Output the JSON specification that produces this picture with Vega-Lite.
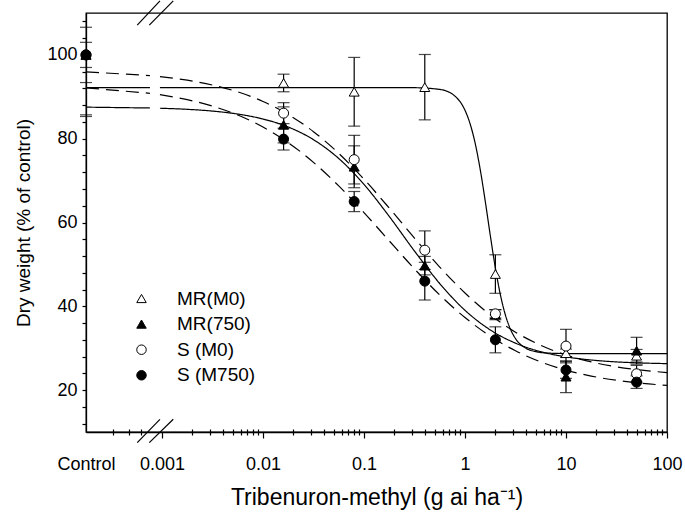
{
  "$schema": "https://vega.github.io/schema/vega-lite/v6.json",
  "width": 581,
  "height": 419,
  "autosize": {"type": "none"},
  "padding": {"left": 86, "top": 13, "right": 18, "bottom": 88},
  "background": "white",
  "config": {
    "font": "Liberation Sans",
    "view": {"stroke": "black", "strokeWidth": 1.3},
    "axis": {"domainColor": "black", "domainWidth": 1.3, "tickColor": "black", "tickWidth": 1.2, "labelColor": "black", "titleColor": "black", "labelFont": "Liberation Sans", "titleFont": "Liberation Sans", "titleFontWeight": "normal", "grid": false, "labelFontSize": 18, "titleFontSize": 21},
    "legend": {"labelFontSize": 19, "labelFont": "Liberation Sans", "labelColor": "black", "symbolSize": 90, "symbolStrokeColor": "black", "symbolStrokeWidth": 1, "labelOffset": 26, "rowPadding": 5.6}
  },
  "datasets": {
    "pts": [
      {"s": "MR(M0)", "d": 0.000177, "y": 100, "lo": 85.3, "hi": 114.7},
      {"s": "MR(M0)", "d": 0.016, "y": 93.3, "lo": 91.2, "hi": 95.4},
      {"s": "MR(M0)", "d": 0.08, "y": 91.2, "lo": 83.0, "hi": 99.4},
      {"s": "MR(M0)", "d": 0.4, "y": 92.3, "lo": 84.5, "hi": 100.1},
      {"s": "MR(M0)", "d": 2, "y": 47.7, "lo": 43.1, "hi": 52.3},
      {"s": "MR(M0)", "d": 10, "y": 28.8, "lo": 27.8, "hi": 29.8},
      {"s": "MR(M0)", "d": 50, "y": 28.2, "lo": 26.7, "hi": 29.7},
      {"s": "MR(750)", "d": 0.000177, "y": 100, "lo": 97, "hi": 103},
      {"s": "MR(750)", "d": 0.016, "y": 83.3, "lo": 79.0, "hi": 87.6},
      {"s": "MR(750)", "d": 0.08, "y": 73.3, "lo": 68.3, "hi": 78.3},
      {"s": "MR(750)", "d": 0.4, "y": 49.7, "lo": 47.5, "hi": 51.9},
      {"s": "MR(750)", "d": 2, "y": 38.0, "lo": 36.8, "hi": 39.2},
      {"s": "MR(750)", "d": 10, "y": 23.2, "lo": 19.4, "hi": 27.0},
      {"s": "MR(750)", "d": 50, "y": 29.4, "lo": 26.2, "hi": 32.6},
      {"s": "S (M0)", "d": 0.000177, "y": 100, "lo": 85.7, "hi": 114.3},
      {"s": "S (M0)", "d": 0.016, "y": 86.1, "lo": 83.6, "hi": 88.6},
      {"s": "S (M0)", "d": 0.08, "y": 75.0, "lo": 69.2, "hi": 80.8},
      {"s": "S (M0)", "d": 0.4, "y": 53.4, "lo": 48.8, "hi": 58.0},
      {"s": "S (M0)", "d": 2, "y": 38.2, "lo": 37.2, "hi": 39.2},
      {"s": "S (M0)", "d": 10, "y": 30.5, "lo": 26.5, "hi": 34.5},
      {"s": "S (M0)", "d": 50, "y": 23.9, "lo": 21.9, "hi": 25.9},
      {"s": "S (M750)", "d": 0.000177, "y": 100, "lo": 93.4, "hi": 106.6},
      {"s": "S (M750)", "d": 0.016, "y": 79.9, "lo": 77.3, "hi": 82.5},
      {"s": "S (M750)", "d": 0.08, "y": 65.0, "lo": 62.6, "hi": 67.4},
      {"s": "S (M750)", "d": 0.4, "y": 46.0, "lo": 41.5, "hi": 50.5},
      {"s": "S (M750)", "d": 2, "y": 32.0, "lo": 28.9, "hi": 35.1},
      {"s": "S (M750)", "d": 10, "y": 24.8, "lo": 22.8, "hi": 26.8},
      {"s": "S (M750)", "d": 50, "y": 21.9, "lo": 20.4, "hi": 23.4}
    ],
    "curves": [
      {"c": "MR(M0)", "g": "a", "x": 0.000177, "y": 92.2},
      {"c": "MR(M0)", "g": "a", "x": 0.00076, "y": 92.2},
      {"c": "MR(M0)", "g": "b", "x": 0.000955, "y": 92.2},
      {"c": "MR(M0)", "g": "b", "x": 0.01, "y": 92.2},
      {"c": "MR(M0)", "g": "b", "x": 0.1, "y": 92.2},
      {"c": "MR(M0)", "g": "b", "x": 0.316228, "y": 92.17},
      {"c": "MR(M0)", "g": "b", "x": 0.562341, "y": 91.76},
      {"c": "MR(M0)", "g": "b", "x": 0.794328, "y": 90.17},
      {"c": "MR(M0)", "g": "b", "x": 1, "y": 86.79},
      {"c": "MR(M0)", "g": "b", "x": 1.122018, "y": 83.61},
      {"c": "MR(M0)", "g": "b", "x": 1.258925, "y": 78.99},
      {"c": "MR(M0)", "g": "b", "x": 1.412538, "y": 72.76},
      {"c": "MR(M0)", "g": "b", "x": 1.584893, "y": 65.18},
      {"c": "MR(M0)", "g": "b", "x": 1.778279, "y": 57.0},
      {"c": "MR(M0)", "g": "b", "x": 1.995262, "y": 49.27},
      {"c": "MR(M0)", "g": "b", "x": 2.238721, "y": 42.8},
      {"c": "MR(M0)", "g": "b", "x": 2.511886, "y": 37.93},
      {"c": "MR(M0)", "g": "b", "x": 2.818383, "y": 34.54},
      {"c": "MR(M0)", "g": "b", "x": 3.162278, "y": 32.31},
      {"c": "MR(M0)", "g": "b", "x": 3.981072, "y": 30.03},
      {"c": "MR(M0)", "g": "b", "x": 5.011872, "y": 29.18},
      {"c": "MR(M0)", "g": "b", "x": 6.309573, "y": 28.87},
      {"c": "MR(M0)", "g": "b", "x": 10, "y": 28.72},
      {"c": "MR(M0)", "g": "b", "x": 100, "y": 28.7},
      {"c": "MR(750)", "g": "a", "x": 0.000177, "y": 87.53},
      {"c": "MR(750)", "g": "a", "x": 0.00076, "y": 87.33},
      {"c": "MR(750)", "g": "b", "x": 0.000955, "y": 87.27},
      {"c": "MR(750)", "g": "b", "x": 0.001778, "y": 87.01},
      {"c": "MR(750)", "g": "b", "x": 0.003162, "y": 86.59},
      {"c": "MR(750)", "g": "b", "x": 0.005623, "y": 85.88},
      {"c": "MR(750)", "g": "b", "x": 0.01, "y": 84.7},
      {"c": "MR(750)", "g": "b", "x": 0.017783, "y": 82.79},
      {"c": "MR(750)", "g": "b", "x": 0.031623, "y": 79.77},
      {"c": "MR(750)", "g": "b", "x": 0.056234, "y": 75.28},
      {"c": "MR(750)", "g": "b", "x": 0.1, "y": 69.09},
      {"c": "MR(750)", "g": "b", "x": 0.177828, "y": 61.46},
      {"c": "MR(750)", "g": "b", "x": 0.316228, "y": 53.19},
      {"c": "MR(750)", "g": "b", "x": 0.562341, "y": 45.43},
      {"c": "MR(750)", "g": "b", "x": 1, "y": 39.05},
      {"c": "MR(750)", "g": "b", "x": 1.778279, "y": 34.37},
      {"c": "MR(750)", "g": "b", "x": 3.162278, "y": 31.2},
      {"c": "MR(750)", "g": "b", "x": 5.623413, "y": 29.17},
      {"c": "MR(750)", "g": "b", "x": 10, "y": 27.93},
      {"c": "MR(750)", "g": "b", "x": 17.78279, "y": 27.18},
      {"c": "MR(750)", "g": "b", "x": 31.62278, "y": 26.73},
      {"c": "MR(750)", "g": "b", "x": 56.23413, "y": 26.47},
      {"c": "MR(750)", "g": "b", "x": 100, "y": 26.32},
      {"c": "S (M0)", "g": "a", "x": 0.000177, "y": 95.96},
      {"c": "S (M0)", "g": "a", "x": 0.00076, "y": 95.06},
      {"c": "S (M0)", "g": "b", "x": 0.000955, "y": 94.82},
      {"c": "S (M0)", "g": "b", "x": 0.001778, "y": 93.97},
      {"c": "S (M0)", "g": "b", "x": 0.003162, "y": 92.81},
      {"c": "S (M0)", "g": "b", "x": 0.005623, "y": 91.18},
      {"c": "S (M0)", "g": "b", "x": 0.01, "y": 88.89},
      {"c": "S (M0)", "g": "b", "x": 0.017783, "y": 85.78},
      {"c": "S (M0)", "g": "b", "x": 0.031623, "y": 81.68},
      {"c": "S (M0)", "g": "b", "x": 0.056234, "y": 76.51},
      {"c": "S (M0)", "g": "b", "x": 0.1, "y": 70.34},
      {"c": "S (M0)", "g": "b", "x": 0.177828, "y": 63.45},
      {"c": "S (M0)", "g": "b", "x": 0.316228, "y": 56.28},
      {"c": "S (M0)", "g": "b", "x": 0.562341, "y": 49.37},
      {"c": "S (M0)", "g": "b", "x": 1, "y": 43.17},
      {"c": "S (M0)", "g": "b", "x": 1.778279, "y": 37.97},
      {"c": "S (M0)", "g": "b", "x": 3.162278, "y": 33.83},
      {"c": "S (M0)", "g": "b", "x": 5.623413, "y": 30.69},
      {"c": "S (M0)", "g": "b", "x": 10, "y": 28.38},
      {"c": "S (M0)", "g": "b", "x": 17.78279, "y": 26.73},
      {"c": "S (M0)", "g": "b", "x": 31.62278, "y": 25.56},
      {"c": "S (M0)", "g": "b", "x": 56.23413, "y": 24.75},
      {"c": "S (M0)", "g": "b", "x": 100, "y": 24.19},
      {"c": "S (M750)", "g": "a", "x": 0.000177, "y": 92.14},
      {"c": "S (M750)", "g": "a", "x": 0.00076, "y": 90.83},
      {"c": "S (M750)", "g": "b", "x": 0.000955, "y": 90.5},
      {"c": "S (M750)", "g": "b", "x": 0.001778, "y": 89.32},
      {"c": "S (M750)", "g": "b", "x": 0.003162, "y": 87.77},
      {"c": "S (M750)", "g": "b", "x": 0.005623, "y": 85.65},
      {"c": "S (M750)", "g": "b", "x": 0.01, "y": 82.79},
      {"c": "S (M750)", "g": "b", "x": 0.017783, "y": 79.06},
      {"c": "S (M750)", "g": "b", "x": 0.031623, "y": 74.36},
      {"c": "S (M750)", "g": "b", "x": 0.056234, "y": 68.74},
      {"c": "S (M750)", "g": "b", "x": 0.1, "y": 62.37},
      {"c": "S (M750)", "g": "b", "x": 0.177828, "y": 55.62},
      {"c": "S (M750)", "g": "b", "x": 0.316228, "y": 48.92},
      {"c": "S (M750)", "g": "b", "x": 0.562341, "y": 42.71},
      {"c": "S (M750)", "g": "b", "x": 1, "y": 37.32},
      {"c": "S (M750)", "g": "b", "x": 1.778279, "y": 32.88},
      {"c": "S (M750)", "g": "b", "x": 3.162278, "y": 29.38},
      {"c": "S (M750)", "g": "b", "x": 5.623413, "y": 26.73},
      {"c": "S (M750)", "g": "b", "x": 10, "y": 24.77},
      {"c": "S (M750)", "g": "b", "x": 17.78279, "y": 23.35},
      {"c": "S (M750)", "g": "b", "x": 31.62278, "y": 22.34},
      {"c": "S (M750)", "g": "b", "x": 56.23413, "y": 21.63},
      {"c": "S (M750)", "g": "b", "x": 100, "y": 21.13}
    ],
    "breaks": [
      {"x": 0.000569, "x2": 0.000955, "y": 107.1, "y2": 112.9},
      {"x": 0.000749, "x2": 0.001294, "y": 107.1, "y2": 112.9},
      {"x": 0.000569, "x2": 0.000955, "y": 7.45, "y2": 13.03},
      {"x": 0.000749, "x2": 0.001294, "y": 7.45, "y2": 13.03}
    ]
  },
  "layer": [
    {
      "data": {"name": "curves"},
      "mark": {"type": "line", "interpolate": "monotone", "color": "black", "strokeWidth": 1.2},
      "encoding": {
        "x": {"field": "x", "type": "quantitative", "scale": {"type": "log", "domain": [0.000177, 100], "nice": false},
              "axis": {"orient": "bottom", "values": [0.000325, 0.000468, 0.000615, 0.002, 0.003, 0.004, 0.005, 0.006, 0.007, 0.008, 0.009, 0.02, 0.03, 0.04, 0.05, 0.06, 0.07, 0.08, 0.09, 0.2, 0.3, 0.4, 0.5, 0.6, 0.7, 0.8, 0.9, 2, 3, 4, 5, 6, 7, 8, 9, 20, 30, 40, 50, 60, 70, 80, 90], "labels": false, "domain": false, "tickSize": 6, "offset": -3, "title": null}},
        "y": {"field": "y", "type": "quantitative", "scale": {"domain": [10, 110], "nice": false, "zero": false}, "axis": null},
        "strokeDash": {"field": "c", "type": "nominal", "scale": {"domain": ["MR(M0)", "MR(750)", "S (M0)", "S (M750)"], "range": [[1, 0], [1, 0], [13, 7], [13, 7]]}, "legend": null},
        "detail": {"field": "g"}
      }
    },
    {
      "data": {"name": "breaks"},
      "mark": {"type": "rule", "color": "black", "strokeWidth": 1.2, "clip": false},
      "encoding": {
        "x": {"field": "x", "type": "quantitative", "scale": {"type": "log", "domain": [0.000177, 100], "nice": false}, "axis": null},
        "x2": {"field": "x2"},
        "y": {"field": "y", "type": "quantitative", "scale": {"domain": [10, 110], "nice": false, "zero": false}, "axis": null},
        "y2": {"field": "y2"}
      }
    },
    {
      "data": {"name": "pts"},
      "mark": {"type": "rule", "color": "black", "strokeWidth": 1.2, "clip": true},
      "encoding": {
        "x": {"field": "d", "type": "quantitative", "scale": {"type": "log", "domain": [0.000177, 100], "nice": false}, "axis": null},
        "y": {"field": "lo", "type": "quantitative", "scale": {"domain": [10, 110], "nice": false, "zero": false}, "axis": null},
        "y2": {"field": "hi"}
      }
    },
    {
      "data": {"name": "pts"},
      "mark": {"type": "tick", "orient": "horizontal", "color": "black", "size": 12, "thickness": 1.2},
      "encoding": {
        "x": {"field": "d", "type": "quantitative", "scale": {"type": "log", "domain": [0.000177, 100], "nice": false}, "axis": null},
        "y": {"field": "lo", "type": "quantitative", "scale": {"domain": [10, 110], "nice": false, "zero": false}, "axis": null}
      }
    },
    {
      "data": {"name": "pts"},
      "transform": [{"filter": "datum.hi <= 110"}],
      "mark": {"type": "tick", "orient": "horizontal", "color": "black", "size": 12, "thickness": 1.2},
      "encoding": {
        "x": {"field": "d", "type": "quantitative", "scale": {"type": "log", "domain": [0.000177, 100], "nice": false}, "axis": null},
        "y": {"field": "hi", "type": "quantitative", "scale": {"domain": [10, 110], "nice": false, "zero": false}, "axis": null}
      }
    },
    {
      "data": {"name": "pts"},
      "mark": {"type": "point", "filled": false, "strokeWidth": 1, "size": 100, "opacity": 1, "fillOpacity": 1, "strokeOpacity": 1},
      "encoding": {
        "x": {"field": "d", "type": "quantitative", "scale": {"type": "log", "domain": [0.000177, 100], "nice": false},
              "axis": {"orient": "bottom", "values": [0.000177, 0.001, 0.01, 0.1, 1, 10, 100], "labelExpr": "datum.value < 0.0005 ? 'Control' : format(datum.value, '~g')", "tickSize": 6, "tickColor": {"condition": {"test": "datum.value < 0.0005", "value": "transparent"}, "value": "black"}, "labelPadding": 17, "labelFlush": false, "labelOverlap": false, "title": "Tribenuron-methyl (g ai ha⁻¹)", "titleFontSize": 23, "titleX": 290.5, "titleY": 72, "titleBaseline": "alphabetic", "titleAlign": "center", "titleAnchor": null}},
        "y": {"field": "y", "type": "quantitative", "scale": {"domain": [10, 110], "nice": false, "zero": false},
              "axis": {"values": [12, 16, 20, 24, 28, 32, 36, 40, 44, 48, 52, 56, 60, 64, 68, 72, 76, 80, 84, 88, 92, 96, 100, 104, 108], "labelExpr": "datum.value % 20 == 0 ? datum.value : ''", "tickSize": 4, "labelPadding": 5, "labelOverlap": false, "labelFlush": false, "title": "Dry weight (% of control)", "titleFontSize": 19, "titleX": -57, "titleY": 209.5, "titleAngle": -90, "titleBaseline": "alphabetic", "titleAlign": "center", "titleAnchor": null}},
        "shape": {"field": "s", "type": "nominal", "title": null, "scale": {"domain": ["MR(M0)", "MR(750)", "S (M0)", "S (M750)"], "range": ["triangle-up", "triangle-up", "circle", "circle"]},
                  "legend": {"orient": "bottom-left", "offset": 46}},
        "fill": {"field": "s", "type": "nominal", "title": null, "scale": {"domain": ["MR(M0)", "MR(750)", "S (M0)", "S (M750)"], "range": ["white", "black", "white", "black"]},
                 "legend": {"orient": "bottom-left", "offset": 46}},
        "stroke": {"field": "s", "type": "nominal", "title": null, "scale": {"domain": ["MR(M0)", "MR(750)", "S (M0)", "S (M750)"], "range": ["black", "black", "black", "black"]},
                   "legend": {"orient": "bottom-left", "offset": 46}}
      }
    }
  ],
  "resolve": {"axis": {"x": "independent", "y": "independent"}, "legend": {"shape": "independent", "fill": "independent", "stroke": "independent"}}
}
